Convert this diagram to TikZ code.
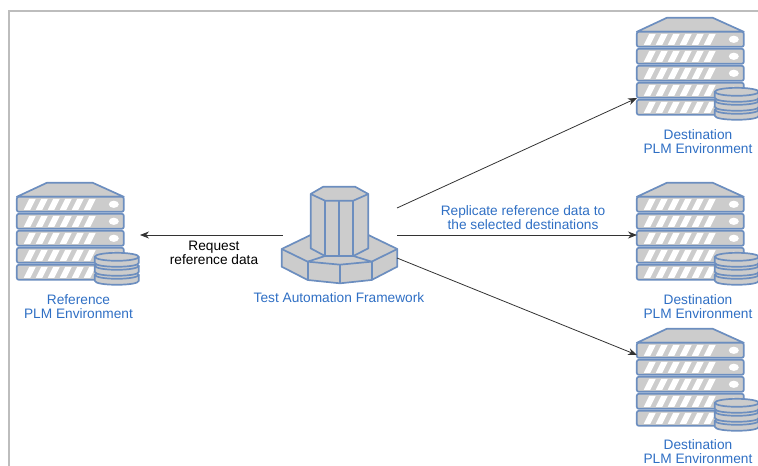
\documentclass[tikz,border=0pt]{standalone}
\usepackage{fontspec}
\setmainfont{Liberation Sans}
\usepackage{xcolor}
\usepackage{tikz}
\usetikzlibrary{arrows.meta}
\usetikzlibrary{positioning}
\definecolor{rackblue}{HTML}{6C8EBF}
\definecolor{rackgray}{HTML}{CCCCCC}
\definecolor{labelblue}{HTML}{2F6FC4}
\definecolor{framegray}{HTML}{BDBDBD}
\tikzset{
  rackline/.style = {draw=rackblue, line width=1.7pt, fill=rackgray, line join=round},
  rackanchor/.style = {inner sep=0pt, minimum width=107pt, minimum height=97pt},
  envlabel/.style = {align=center, text=labelblue, font=\fontsize{13.7}{13.5}\selectfont, inner sep=0pt},
  flowlabel/.style = {align=center, font=\fontsize{13.7}{14}\selectfont, inner sep=0pt},
  flowarrow/.style = {-{Stealth[length=9pt,width=7pt]}, line width=0.8pt, black!80},
  pics/rackunit/.style = {code = {
    \draw[rackline, rounded corners=2pt] (0,0) rectangle (107,15);
    \foreach \sx in {0,...,5} {
      \fill[white] (7+\sx*12,13) -- (12.5+\sx*12,2) -- (19+\sx*12,2) -- (13.5+\sx*12,13) -- cycle;
    }
    \fill[white] (97,7.5) ellipse (5 and 3.6);
  }},
  pics/dbdisc/.style = {code = {
    \draw[rackline] (0,0) -- (0,6) .. controls (0,11.3) and (44,11.3) .. (44,6) -- (44,0);
    \draw[rackline] (22,0) ellipse (22 and 4);
  }},
  pics/rackstack/.style = {code = {
    \draw[rackline] (0,14) -- (30,0) -- (76,0) -- (107,14) -- cycle;
    \foreach \ry in {14,31,48,65,82} {
      \pic at (0,\ry) {rackunit};
    }
    \foreach \dy in {92,83,74} {
      \pic at (78,\dy) {dbdisc};
    }
  }},
  pics/octatower/.style = {code = {
    % lower ring
    \draw[rackline] (35,237) -- (35,290) -- (113,330) -- (210,340) -- (305,330) -- (382,290) -- (382,237)
      -- (295,195) -- (122,195) -- cycle;
    \draw[rackline] (35,237) -- (113,275) -- (210,284) -- (305,275) -- (382,237);
    \draw[rackline] (113,275) -- (113,330) (210,284) -- (210,340) (305,275) -- (305,330);
    \draw[rackline] (113,275) -- (165,258) (305,275) -- (250,258);
    % column
    \draw[rackline] (122,72) -- (122,235) -- (165,258) -- (250,258) -- (295,235) -- (295,72)
      -- (255,50) -- (160,50) -- cycle;
    \draw[rackline] (122,72) -- (165,92) -- (250,92) -- (295,72);
    \draw[rackline] (165,92) -- (165,258) (208,92) -- (208,258) (250,92) -- (250,258);
  }},
}
\begin{document}
\begin{tikzpicture}[x=1pt, y=-1pt]
    \useasboundingbox (0,0) rectangle (758,466);
    \draw[framegray, line width=1.4pt] (758,11) -- (9,11) -- (9,466);

    \node[rackanchor] (refenv) at (70.5,231.5) {};
    \node[rackanchor] (destone) at (690.5,66.5) {};
    \node[rackanchor] (desttwo) at (690.5,231.5) {};
    \node[rackanchor] (destthree) at (690.5,377.5) {};
    \node[inner sep=0pt, minimum width=114pt, minimum height=98pt] (tower) at (340,235) {};

    \pic at (refenv.north west) {rackstack};
    \pic at (destone.north west) {rackstack};
    \pic at (desttwo.north west) {rackstack};
    \pic at (destthree.north west) {rackstack};
    \begin{scope}[shift={(270,170)}, x=0.3333pt, y=-0.3333pt]
      \pic {octatower};
    \end{scope}

    \node[envlabel] (reflabel) at (78.5,306.5) {Reference\\PLM Environment};
    \node[envlabel] (destonelabel) at (698,141.5) {Destination\\PLM Environment};
    \node[envlabel] (desttwolabel) at (698,306.5) {Destination\\PLM Environment};
    \node[envlabel] (destthreelabel) at (698,451.5) {Destination\\PLM Environment};
    \node[envlabel] (towerlabel) at (339,298) {Test Automation Framework};
    \node[flowlabel] (requestlabel) at (214,253) {Request\\reference data};
    \node[flowlabel, text=labelblue] (replicatelabel) at (523,217.5) {Replicate reference data to\\the selected destinations};

    \coordinate (refin) at (140,235);
    \coordinate (destonein) at (637,98);
    \coordinate (desttwoin) at (637,235);
    \coordinate (destthreein) at (637,355);
    \coordinate (towerup) at (397,208);
    \coordinate (towerdown) at (397,258);

    \draw[flowarrow] (tower.west) -- (refin);
    \draw[flowarrow] (towerup) -- (destonein);
    \draw[flowarrow] (tower.east) -- (desttwoin);
    \draw[flowarrow] (towerdown) -- (destthreein);
\end{tikzpicture}
\end{document}
